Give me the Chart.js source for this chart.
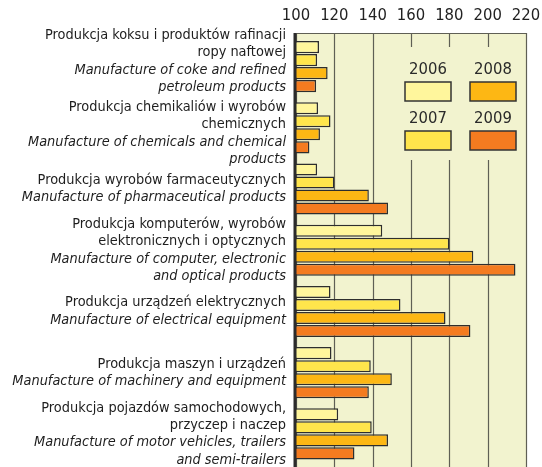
<!DOCTYPE html>
<html>
<head>
<meta charset="utf-8">
<script src="https://cdn.jsdelivr.net/npm/chart.js@4"></script>
<style>
  html, body { margin: 0; padding: 0; background: #fff; overflow: hidden; }
  #wrap { width: 542px; height: 467px; position: relative; }
</style>
</head>
<body>
<div id="wrap"><canvas id="chart_canvas"></canvas></div>
<script>
// category labels, polish line(s) + english line(s)
const plLabels = [
    ['Produkcja koksu i produktów rafinacji', 'ropy naftowej'],
    ['Produkcja chemikaliów i wyrobów', 'chemicznych'],
    ['Produkcja wyrobów farmaceutycznych'],
    ['Produkcja komputerów, wyrobów', 'elektronicznych i optycznych'],
    ['Produkcja urządzeń elektrycznych'],
    ['Produkcja maszyn i urządzeń'],
    ['Produkcja pojazdów samochodowych,', 'przyczep i naczep']
];
const enLabels = [
    ['Manufacture of coke and refined', 'petroleum products'],
    ['Manufacture of chemicals and chemical', 'products'],
    ['Manufacture of pharmaceutical products'],
    ['Manufacture of computer, electronic', 'and optical products'],
    ['Manufacture of electrical equipment'],
    ['Manufacture of machinery and equipment'],
    ['Manufacture of motor vehicles, trailers', 'and semi-trailers']
];

const years = ['2006', '2007', '2008', '2009'];
const v2006 = [112, 111.5, 111, 145, 118, 118.5, 122];
const v2007 = [111, 118, 120, 180, 154.5, 139, 139.5];
const v2008 = [116.5, 112.5, 138, 192.5, 178, 150, 148];
const v2009 = [110.5, 107, 148, 214.5, 191, 138, 130.5];

const xTicks = [100, 120, 140, 160, 180, 200, 220];

const colors = ['#fff69c', '#ffe54c', '#fdb714', '#f47b20'];
const FONT = "'Liberation Sans Narrow', 'DejaVu Sans Condensed', 'Liberation Sans', sans-serif";

// background, grid and the blank legend field
const framePlugin = {
    id: 'frame',
    beforeDatasetsDraw(chart) {
        const ctx = chart.ctx;
        const a = chart.chartArea;
        const x = chart.scales.x;
        const top = a.top - 3;
        ctx.save();
        ctx.fillStyle = '#f2f3cf';
        ctx.fillRect(a.left, top, a.right - a.left, a.bottom - top + 5);

        ctx.strokeStyle = '#5f5f55';
        ctx.lineWidth = 1.2;
        xTicks.forEach(t => {
            const px = Math.round(x.getPixelForValue(t)) + 0.5;
            ctx.beginPath();
            ctx.moveTo(px, top);
            ctx.lineTo(px, a.bottom + 5);
            ctx.stroke();
        });
        ctx.beginPath();
        ctx.moveTo(a.left, top + 0.5);
        ctx.lineTo(a.right, top + 0.5);
        ctx.stroke();

        // legend field covers the grid
        ctx.fillStyle = '#f2f3cf';
        ctx.fillRect(x.getPixelForValue(145), top + 14, x.getPixelForValue(218) - x.getPixelForValue(145), 113);
        ctx.restore();
    },
    afterDraw(chart) {
        const ctx = chart.ctx;
        const a = chart.chartArea;
        const y = chart.scales.y;
        ctx.save();

        // left axis
        ctx.strokeStyle = '#2b2b2b';
        ctx.lineWidth = 3;
        ctx.beginPath();
        ctx.moveTo(a.left - 1, a.top - 3);
        ctx.lineTo(a.left - 1, a.bottom + 5);
        ctx.stroke();

        // category labels, centred on the tick, pushed apart where blocks collide
        const lh = 17.4;
        const blocks = plLabels.map((pl, i) => {
            const lines = pl.map(t => [t, false]).concat(enLabels[i].map(t => [t, true]));
            return { lines, c: y.getPixelForValue(i) };
        });
        for (let i = 1; i < blocks.length; i++) {
            const p = blocks[i - 1], b = blocks[i];
            const pEnd = p.c + (p.lines.length - 1) * lh / 2;
            const bStart = b.c - (b.lines.length - 1) * lh / 2;
            const need = lh + 2.5 - (bStart - pEnd);
            if (need > 0) {
                p.c -= need / 2;
                b.c += need / 2;
            }
        }
        ctx.fillStyle = '#1e1e1e';
        ctx.textAlign = 'right';
        ctx.textBaseline = 'middle';
        blocks.forEach(b => {
            const y0 = b.c - (b.lines.length - 1) * lh / 2;
            b.lines.forEach((ln, k) => {
                ctx.font = (ln[1] ? 'italic ' : '') + '14.4px ' + FONT;
                ctx.fillText(ln[0], a.left - 10, y0 + k * lh);
            });
        });

        // legend 2x2
        const sw = [[405, 82], [405, 131], [470, 82], [470, 131]];
        ctx.textAlign = 'center';
        ctx.textBaseline = 'middle';
        ctx.font = '16.5px ' + FONT;
        years.forEach((yr, i) => {
            const [sx, sy] = sw[i];
            ctx.fillStyle = colors[i];
            ctx.fillRect(sx, sy, 46, 19);
            ctx.strokeStyle = '#333';
            ctx.lineWidth = 1.5;
            ctx.strokeRect(sx, sy, 46, 19);
            ctx.fillStyle = '#2a2a2a';
            ctx.fillText(yr, sx + 23, sy - 12);
        });
        ctx.restore();
    }
};

Chart.defaults.font.family = FONT;

const ctx = document.getElementById('chart_canvas').getContext('2d');
const chart = new Chart(ctx, {
    type: 'bar',
    data: {
        labels: plLabels.map(l => l[0]),
        datasets: [v2006, v2007, v2008, v2009].map((d, i) => ({
            label: years[i],
            data: d,
            backgroundColor: colors[i],
            borderColor: '#2e2e2e',
            borderWidth: 1.5,
            borderSkipped: 'left',
            barPercentage: 0.93,
            categoryPercentage: 0.85
        }))
    },
    options: {
        indexAxis: 'y',
        responsive: true,
        maintainAspectRatio: false,
        animation: false,
        layout: { padding: { left: 296, right: 16, top: 0, bottom: 2.5 } },
        plugins: { legend: { display: false }, tooltip: { enabled: false } },
        scales: {
            x: {
                position: 'top',
                min: 100,
                max: 220,
                afterBuildTicks: s => { s.ticks = xTicks.map(v => ({ value: v })); },
                afterFit: s => { s.height = 36; s.paddingLeft = 0; s.paddingRight = 0; },
                grid: { display: false, drawTicks: false },
                border: { display: false },
                ticks: {
                    color: '#222',
                    font: { size: 16.5 },
                    padding: 10,
                    maxRotation: 0
                }
            },
            y: {
                display: false,
                offset: true
            }
        }
    },
    plugins: [framePlugin]
});
</script>
</body>
</html>
